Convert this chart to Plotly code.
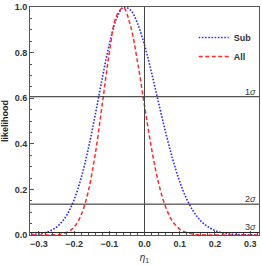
import plotly.graph_objects as go

eta = [-0.32, -0.30, -0.28, -0.26, -0.24, -0.22, -0.20, -0.18, -0.16, -0.14,
       -0.12, -0.10, -0.08, -0.06, -0.04, -0.02, 0.00, 0.02, 0.04, 0.06,
       0.08, 0.10, 0.12, 0.14, 0.16, 0.18, 0.20, 0.22, 0.24, 0.26, 0.28, 0.30, 0.32]

sub_like = [0.002, 0.005, 0.011, 0.024, 0.048, 0.089, 0.154, 0.249, 0.375, 0.526,
            0.687, 0.835, 0.946, 0.998, 0.987, 0.929, 0.833, 0.712, 0.580, 0.450,
            0.333, 0.234, 0.157, 0.101, 0.061, 0.036, 0.020, 0.010, 0.005, 0.0025, 0.0011, 0.0005, 0.0002]

all_like = [0.0, 0.00004, 0.0002, 0.0009, 0.0035, 0.012, 0.034, 0.087, 0.188, 0.353,
            0.572, 0.797, 0.959, 0.997, 0.919, 0.762, 0.567, 0.379, 0.227, 0.123,
            0.059, 0.026, 0.010, 0.0035, 0.0011, 0.0003, 0.0001, 0.0, 0.0, 0.0, 0.0, 0.0, 0.0]

sigma_levels = [0.6065, 0.1353, 0.0111]
sigma_labels = ["1<i>σ</i>", "2<i>σ</i>", "3<i>σ</i>"]

x_ticks = [-0.3, -0.2, -0.1, 0.0, 0.1, 0.2, 0.3]
y_ticks = [0.0, 0.2, 0.4, 0.6, 0.8, 1.0]

FONT = "Liberation Sans"

fig = go.Figure()
fig.add_trace(go.Scatter(x=eta, y=sub_like, mode="lines", name="Sub",
                         line=dict(color="#2a2aff", width=1.6, dash="1.6px,1.6px", shape="spline")))
fig.add_trace(go.Scatter(x=eta, y=all_like, mode="lines", name="All",
                         line=dict(color="#ff2a2a", width=1.5, dash="4px,2.5px", shape="spline")))

for lvl, lab in zip(sigma_levels, sigma_labels):
    fig.add_shape(type="line", xref="paper", x0=0, x1=1, yref="y", y0=lvl, y1=lvl,
                  line=dict(color="#222222", width=1))
    fig.add_annotation(x=1, xref="paper", xanchor="right", y=lvl, yref="y", yanchor="bottom",
                       text=lab, showarrow=False, font=dict(family=FONT, size=9, color="#333333"),
                       xshift=-1, yshift=-2)

fig.add_shape(type="line", xref="x", x0=0, x1=0, yref="paper", y0=0, y1=1,
              line=dict(color="#444444", width=1))

fig.update_layout(
    width=262, height=265,
    margin=dict(l=30, r=2, t=5, b=30),
    plot_bgcolor="white", paper_bgcolor="white",
    showlegend=True,
    legend=dict(x=0.99, xanchor="right", y=0.93, yanchor="top",
                bgcolor="rgba(0,0,0,0)", font=dict(family=FONT, size=9, color="#333333", weight="bold"),
                itemwidth=30, tracegroupgap=0),
    font=dict(family=FONT, size=9, color="#333333"),
)

fig.update_xaxes(range=[-0.325, 0.325], tickvals=x_ticks, tickformat=".1f",
                 ticks="inside", ticklen=4, tickcolor="#555555",
                 minor=dict(dtick=0.02, ticks="inside", ticklen=2, tickcolor="#555555"),
                 showgrid=False, zeroline=False, showline=True, linecolor="#555555", linewidth=1,
                 mirror=True, tickfont=dict(family=FONT, size=9, color="#333333", weight="bold"),
                 title=dict(text="<i>η</i><sub>1</sub>", font=dict(family=FONT, size=10, color="#333333"),
                            standoff=6))
fig.update_yaxes(range=[0, 1], tickvals=y_ticks, tickformat=".1f",
                 ticks="inside", ticklen=4, tickcolor="#555555",
                 minor=dict(dtick=0.05, ticks="inside", ticklen=2, tickcolor="#555555"),
                 showgrid=False, zeroline=False, showline=True, linecolor="#555555", linewidth=1,
                 mirror=True, tickfont=dict(family=FONT, size=9, color="#333333", weight="bold"),
                 title=dict(text="likelihood", font=dict(family=FONT, size=9, color="#222222", weight="bold"),
                            standoff=4))

fig.write_html("out.html", config={"displayModeBar": False},
               post_script="document.body.style.margin='0';document.body.style.overflow='hidden';")
